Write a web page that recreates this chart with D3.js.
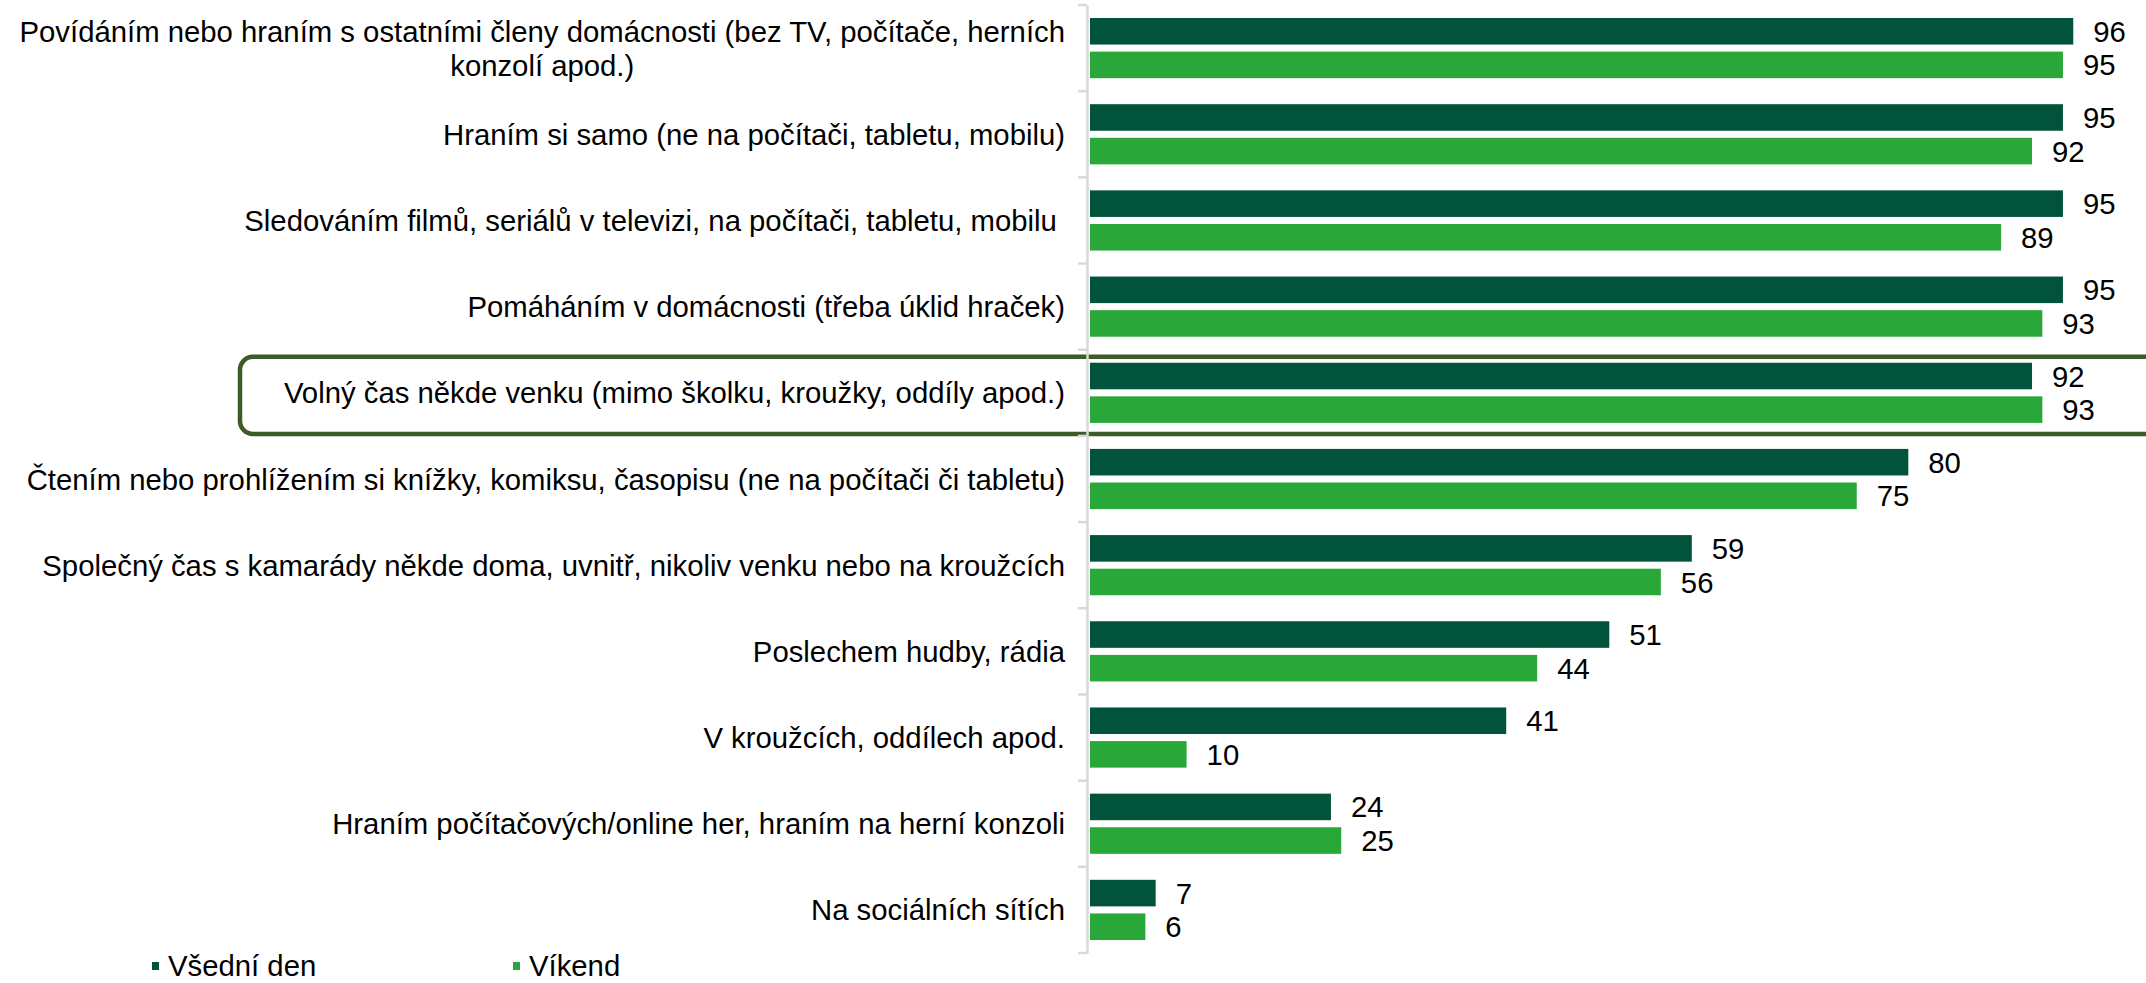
<!DOCTYPE html>
<meta charset="utf-8">
<script src="https://d3js.org/d3.v7.min.js"></script>
<style>
  body { margin: 0; background: #fff; }
  text { font-family: 'Liberation Sans', Arial, sans-serif; fill: #000; }
</style>
<body>
<div id="my_dataviz"></div>
<script>

// categories, top to bottom ("\n" = line break in the label)
var categories = [
  "Povídáním nebo hraním s ostatními členy domácnosti (bez TV, počítače, herních\nkonzolí apod.)",
  "Hraním si samo (ne na počítači, tabletu, mobilu)",
  "Sledováním filmů, seriálů v televizi, na počítači, tabletu, mobilu ",
  "Pomáháním v domácnosti (třeba úklid hraček)",
  "Volný čas někde venku (mimo školku, kroužky, oddíly apod.)",
  "Čtením nebo prohlížením si knížky, komiksu, časopisu (ne na počítači či tabletu)",
  "Společný čas s kamarády někde doma, uvnitř, nikoliv venku nebo na kroužcích",
  "Poslechem hudby, rádia",
  "V kroužcích, oddílech apod.",
  "Hraním počítačových/online her, hraním na herní konzoli",
  "Na sociálních sítích"
];
var weekday = [96, 95, 95, 95, 92, 80, 59, 51, 41, 24, 7];
var weekend = [95, 92, 89, 93, 93, 75, 56, 44, 10, 25, 6];
var seriesNames = ["Všední den", "Víkend"];
var highlighted = "Volný čas někde venku (mimo školku, kroužky, oddíly apod.)";

var colors = ["#02533b", "#29a839"];
var fontSize = "29.3px";

var W = 2146, H = 983;
var svg = d3.select("#my_dataviz")
  .append("svg")
    .attr("width", W)
    .attr("height", H);

var axisX = 1087;

var x = d3.scaleLinear()
  .domain([0, 100])
  .range([1083.5, 2114.5]);

var y = d3.scaleBand()
  .domain(categories)
  .range([5, 953]);

var ySub = d3.scaleBand()
  .domain(seriesNames)
  .range([13, y.bandwidth() - 13])
  .paddingInner(0.21);

var rows = categories.map(function(c, i) {
  return { cat: c, values: [weekday[i], weekend[i]] };
});

// highlight box
svg.append("rect")
  .attr("x", 240)
  .attr("y", y(highlighted) + 7)
  .attr("width", 2000)
  .attr("height", y.bandwidth() - 9)
  .attr("rx", 13)
  .attr("fill", "none")
  .attr("stroke", "#3d5b27")
  .attr("stroke-width", 4.5);

// axis line + ticks
var yAxis = d3.axisLeft(y).tickSize(0).tickFormat("");
var gAxis = svg.append("g")
  .attr("transform", "translate(" + axisX + ",0)")
  .call(yAxis);
gAxis.select(".domain").attr("stroke", "#d9d9d9").attr("stroke-width", 2.5);
var bounds = categories.map(function(c) { return y(c); }).concat([y.range()[1]]);
gAxis.selectAll(".bound")
  .data(bounds)
  .enter().append("line")
    .attr("x1", -9).attr("x2", 0)
    .attr("y1", function(d) { return d; })
    .attr("y2", function(d) { return d; })
    .attr("stroke", "#d9d9d9")
    .attr("stroke-width", 2.5);

// bars
var g = svg.append("g").selectAll("g")
  .data(rows)
  .enter().append("g")
    .attr("transform", function(d) { return "translate(0," + y(d.cat) + ")"; });

g.selectAll("rect")
  .data(function(d) { return d.values.map(function(v, k) { return { v: v, s: seriesNames[k], k: k }; }); })
  .enter().append("rect")
    .attr("x", axisX + 3)
    .attr("y", function(d) { return ySub(d.s); })
    .attr("width", function(d) { return x(d.v) - (axisX + 3); })
    .attr("height", ySub.bandwidth())
    .attr("fill", function(d) { return colors[d.k]; });

g.selectAll(".val")
  .data(function(d) { return d.values.map(function(v, k) { return { v: v, s: seriesNames[k] }; }); })
  .enter().append("text")
    .attr("class", "val")
    .attr("x", function(d) { return x(d.v) + 20; })
    .attr("y", function(d) { return ySub(d.s) + ySub.bandwidth() / 2; })
    .attr("dy", "0.36em")
    .style("font-size", fontSize)
    .text(function(d) { return d.v; });

// category labels
var labelRight = 1065;
rows.forEach(function(r) {
  var lines = r.cat.split("\n");
  var cy = y(r.cat) + y.bandwidth() / 2;
  var lh = 34;
  var w0 = 0;
  lines.forEach(function(line, i) {
    var t = svg.append("text")
      .attr("y", cy + (i - (lines.length - 1) / 2) * lh)
      .attr("dy", "0.36em")
      .style("font-size", fontSize)
      .style("white-space", "pre")
      .text(line);
    if (i === 0) {
      t.attr("x", labelRight).attr("text-anchor", "end");
      w0 = t.node().getComputedTextLength();
    } else {
      t.attr("x", labelRight - w0 / 2).attr("text-anchor", "middle");
    }
  });
});

// legend
var legendX = [152, 513];
seriesNames.forEach(function(name, k) {
  svg.append("rect")
    .attr("x", legendX[k]).attr("y", 962)
    .attr("width", 7).attr("height", 8)
    .attr("fill", colors[k]);
  svg.append("text")
    .attr("x", legendX[k] + 16).attr("y", 965)
    .attr("dy", "0.36em")
    .style("font-size", fontSize)
    .text(name);
});

</script>
</body>
